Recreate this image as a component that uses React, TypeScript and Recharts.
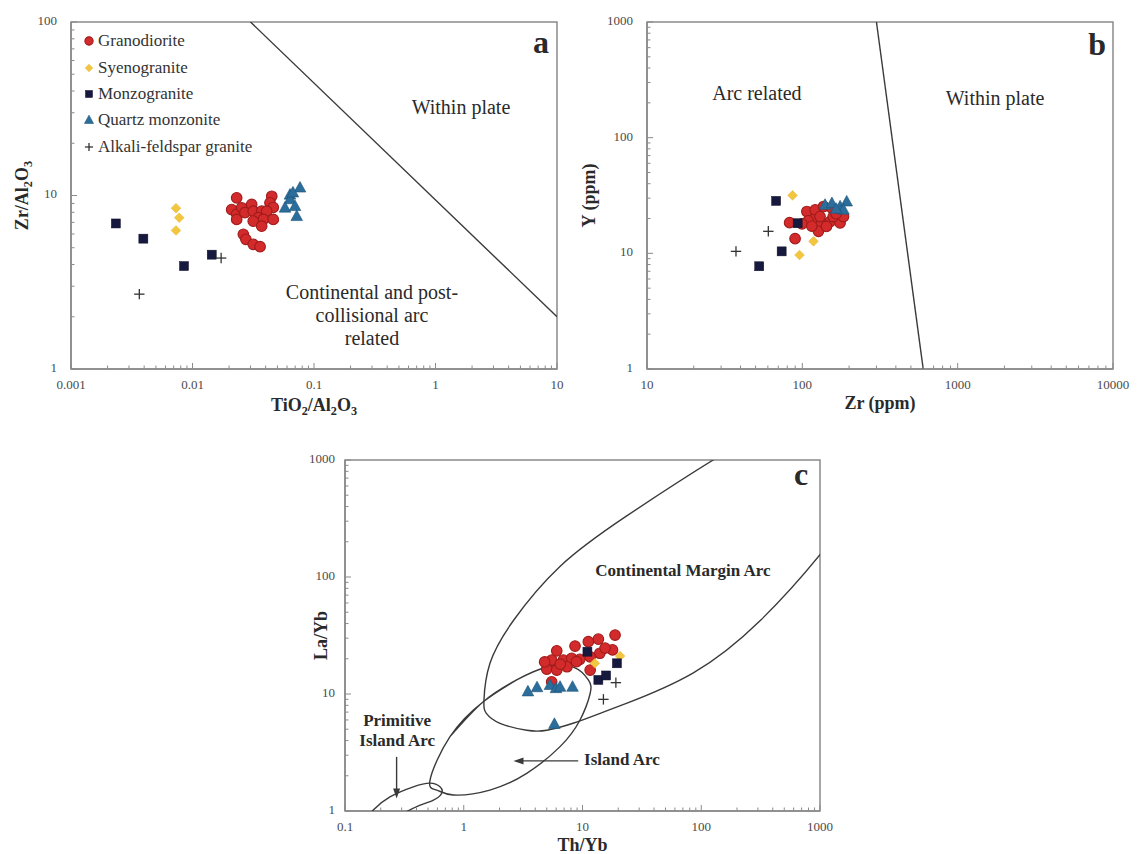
import React from 'react';
import { ScatterChart, Scatter, XAxis, YAxis, ReferenceDot, ReferenceArea, Legend } from 'recharts';

const SERIF = '"Liberation Serif", "Times New Roman", Times, serif';
const AXIS_GRAY = '#8a8a8a';
const LINE_DARK = '#3a3a3a';
const TEXT = '#2a2a2a';

const SERIES_NAMES = ['Granodiorite', 'Syenogranite', 'Monzogranite', 'Quartz monzonite', 'Alkali-feldspar granite'];

// ---------- Panel a: Zr/Al2O3 vs TiO2/Al2O3 ----------
const aGranodiorite = [
  { x: 0.0231, y: 9.7 }, { x: 0.021, y: 8.3 }, { x: 0.0231, y: 7.8 }, { x: 0.0254, y: 8.5 },
  { x: 0.027, y: 7.96 }, { x: 0.0307, y: 8.88 }, { x: 0.0316, y: 8.12 }, { x: 0.0371, y: 8.12 },
  { x: 0.0348, y: 7.45 }, { x: 0.0449, y: 9.9 }, { x: 0.0434, y: 9.08 }, { x: 0.0462, y: 8.53 },
  { x: 0.0408, y: 8.12 }, { x: 0.0383, y: 7.28 }, { x: 0.0462, y: 7.28 }, { x: 0.0316, y: 7.12 },
  { x: 0.0371, y: 6.66 }, { x: 0.0262, y: 5.97 }, { x: 0.0275, y: 5.59 }, { x: 0.0316, y: 5.23 },
  { x: 0.036, y: 5.07 }, { x: 0.0231, y: 7.28 },
];
const aSyenogranite = [{ x: 0.00731, y: 8.45 }, { x: 0.00778, y: 7.45 }, { x: 0.00731, y: 6.29 }];
const aMonzogranite = [{ x: 0.00234, y: 6.9 }, { x: 0.00394, y: 5.64 }, { x: 0.00851, y: 3.92 }, { x: 0.0144, y: 4.56 }];
const aQuartzMonzonite = [
  { x: 0.0634, y: 10.1 }, { x: 0.0767, y: 11.1 }, { x: 0.0634, y: 9.5 }, { x: 0.0577, y: 8.5 },
  { x: 0.0698, y: 8.68 }, { x: 0.0721, y: 7.6 }, { x: 0.0671, y: 10.4 },
];
const aAlkaliGranite = [{ x: 0.0172, y: 4.36 }, { x: 0.00365, y: 2.7 }];
const aBoundary = [{ x: 0.03, y: 100 }, { x: 10, y: 2 }];

// ---------- Panel b: Y vs Zr ----------
const bGranodiorite = [
  { x: 82.8, y: 18.4 }, { x: 89.8, y: 13.4 }, { x: 107, y: 23.0 }, { x: 121, y: 23.8 },
  { x: 137, y: 25.4 }, { x: 155, y: 24.6 }, { x: 118, y: 19.5 }, { x: 133, y: 18.3 },
  { x: 151, y: 18.8 }, { x: 175, y: 18.3 }, { x: 127, y: 15.5 }, { x: 158, y: 20.8 },
  { x: 130, y: 20.8 }, { x: 109, y: 19.1 }, { x: 143, y: 17.1 }, { x: 99.5, y: 18.0 },
  { x: 184, y: 20.8 }, { x: 115, y: 17.2 }, { x: 165, y: 22.0 },
];
const bSyenogranite = [{ x: 86.5, y: 31.7 }, { x: 118, y: 12.7 }, { x: 95.9, y: 9.66 }];
const bMonzogranite = [{ x: 67.8, y: 28.4 }, { x: 73.6, y: 10.4 }, { x: 52.8, y: 7.73 }, { x: 93.3, y: 18.2 }];
const bQuartzMonzonite = [
  { x: 140, y: 26.2 }, { x: 155, y: 27.1 }, { x: 175, y: 25.4 }, { x: 193, y: 28.0 },
  { x: 184, y: 23.8 }, { x: 165, y: 24.2 },
];
const bAlkaliGranite = [{ x: 60.4, y: 15.5 }, { x: 37.4, y: 10.4 }];
const bBoundary = [{ x: 300, y: 1000 }, { x: 600, y: 1 }];

// ---------- Panel c: La/Yb vs Th/Yb ----------
const cGranodiorite = [
  { x: 18.8, y: 31.9 }, { x: 13.6, y: 29.4 }, { x: 11.2, y: 28.0 }, { x: 8.65, y: 25.7 },
  { x: 6.07, y: 23.4 }, { x: 17.9, y: 23.8 }, { x: 14.0, y: 22.3 }, { x: 5.5, y: 19.5 },
  { x: 6.9, y: 19.5 }, { x: 8.1, y: 20.2 }, { x: 9.5, y: 19.8 }, { x: 11.6, y: 20.8 },
  { x: 5.0, y: 16.3 }, { x: 6.07, y: 16.0 }, { x: 7.4, y: 17.1 }, { x: 11.6, y: 16.0 },
  { x: 6.5, y: 18.0 }, { x: 8.9, y: 18.9 }, { x: 5.5, y: 12.7 }, { x: 4.8, y: 18.8 },
  { x: 15.5, y: 24.7 },
];
const cSyenogranite = [{ x: 20.7, y: 21.1 }, { x: 12.7, y: 18.3 }];
const cMonzogranite = [{ x: 11.0, y: 23.0 }, { x: 19.5, y: 18.3 }, { x: 13.6, y: 13.2 }, { x: 15.8, y: 14.4 }];
const cQuartzMonzonite = [
  { x: 3.47, y: 10.5 }, { x: 4.14, y: 11.4 }, { x: 5.32, y: 11.9 }, { x: 5.98, y: 11.2 },
  { x: 6.47, y: 11.5 }, { x: 8.24, y: 11.5 }, { x: 5.8, y: 5.54 },
];
const cAlkaliGranite = [{ x: 19.1, y: 12.5 }, { x: 15.0, y: 9.0 }];

// field boundaries (traced outlines)
const cContinentalArcField = [
  { x: 282, y: 1585 }, { x: 126, y: 1000 }, { x: 23.4, y: 331 }, { x: 6.46, y: 123 },
  { x: 2.63, y: 42.7 }, { x: 1.66, y: 18.2 }, { x: 1.48, y: 8.91 }, { x: 1.55, y: 6.84 },
  { x: 2.02, y: 5.62 }, { x: 3.39, y: 4.9 }, { x: 5.01, y: 4.9 }, { x: 8.32, y: 5.62 },
  { x: 14.1, y: 6.84 }, { x: 23.4, y: 8.32 }, { x: 85.1, y: 15.1 }, { x: 316, y: 42.7 },
  { x: 1000, y: 155 }, { x: 1995, y: 398 },
];
const cIslandArcField = [
  { x: 0.766, y: 4.32 }, { x: 1.46, y: 8.59 }, { x: 2.79, y: 13.2 }, { x: 5.0, y: 17.0 },
  { x: 8.37, y: 17.0 }, { x: 11.2, y: 13.2 }, { x: 11.6, y: 10.1 }, { x: 9.53, y: 6.0 },
  { x: 6.47, y: 3.55 }, { x: 3.39, y: 2.1 }, { x: 1.66, y: 1.51 }, { x: 0.817, y: 1.37 },
  { x: 0.592, y: 1.51 }, { x: 0.52, y: 1.84 }, { x: 0.766, y: 4.32 }, { x: 1.46, y: 8.59 },
  { x: 2.79, y: 13.2 },
];
const cPrimitiveArcField = [
  { x: 0.141, y: 0.794 }, { x: 0.173, y: 1.02 }, { x: 0.239, y: 1.32 }, { x: 0.376, y: 1.61 },
  { x: 0.52, y: 1.73 }, { x: 0.631, y: 1.61 }, { x: 0.652, y: 1.42 }, { x: 0.555, y: 1.24 },
  { x: 0.402, y: 1.09 }, { x: 0.29, y: 0.925 }, { x: 0.224, y: 0.83 },
];
const cPrimitiveArrow = [{ x: 0.272, y: 2.9 }, { x: 0.272, y: 1.36 }];
const cIslandArrow = [{ x: 9.2, y: 2.68 }, { x: 2.78, y: 2.68 }];

// ---------- tick labels ----------
const aXMajor = [0.001, 0.01, 0.1, 1, 10];
const aYMajor = [1, 10, 100];
const bXMajor = [10, 100, 1000, 10000];
const bYMajor = [1, 10, 100, 1000];
const cXMajor = [0.1, 1, 10, 100, 1000];
const cYMajor = [1, 10, 100, 1000];

const withMinor = (majors: number[]) => {
  const out: number[] = [];
  majors.forEach((m, i) => {
    if (i === majors.length - 1) {
      out.push(m);
      return;
    }
    for (let k = 1; k < 10; k++) out.push(+(m * k).toPrecision(6));
  });
  return out;
};

// ---------- symbols ----------
type Draw = (cx: number, cy: number, s?: number) => React.ReactElement;
const drawCircle: Draw = (cx, cy, s = 1) => (
  <circle cx={cx} cy={cy} r={5.3 * s} fill="#d32b2b" stroke="#a01b1b" strokeWidth={1.1} />
);
const drawDiamond: Draw = (cx, cy, s = 1) => {
  const d = 4.8 * s;
  return (
    <polygon
      points={`${cx},${cy - d} ${cx + d},${cy} ${cx},${cy + d} ${cx - d},${cy}`}
      fill="#f3c640"
      stroke="#e7b52e"
      strokeWidth={0.6}
    />
  );
};
const drawSquare: Draw = (cx, cy, s = 1) => {
  const h = 4.5 * s;
  return <rect x={cx - h} y={cy - h} width={2 * h} height={2 * h} fill="#16183e" stroke="#0e0f2a" strokeWidth={0.5} />;
};
const drawTriangle: Draw = (cx, cy, s = 1) => {
  const w = 5.8 * s;
  const t = 6.2 * s;
  const b = 4.4 * s;
  return (
    <polygon
      points={`${cx},${cy - t} ${cx + w},${cy + b} ${cx - w},${cy + b}`}
      fill="#2b6d9b"
      stroke="#1e5478"
      strokeWidth={0.6}
    />
  );
};
const drawPlus: Draw = (cx, cy, s = 1) => {
  const a = 5.2 * s;
  return (
    <g stroke="#333" strokeWidth={1.3}>
      <line x1={cx - a} x2={cx + a} y1={cy} y2={cy} />
      <line x1={cx} x2={cx} y1={cy - a} y2={cy + a} />
    </g>
  );
};
const SYMBOLS: Record<string, Draw> = {
  Granodiorite: drawCircle,
  Syenogranite: drawDiamond,
  Monzogranite: drawSquare,
  'Quartz monzonite': drawTriangle,
  'Alkali-feldspar granite': drawPlus,
};

// ---------- ticks ----------
const xTick = (majors: number[]) => (p: any) => {
  const v = p.payload.value;
  const major = majors.includes(v);
  return (
    <g>
      <line x1={p.x} x2={p.x} y1={p.y} y2={p.y - (major ? 6 : 3.5)} stroke={AXIS_GRAY} strokeWidth={1} />
      {major && (
        <text x={p.x} y={p.y + 17} textAnchor="middle" dominantBaseline="middle" fontFamily={SERIF} fontSize={13} fill="#4a4a4a">
          {String(v)}
        </text>
      )}
    </g>
  );
};
const yTick = (majors: number[], gap: number) => (p: any) => {
  const v = p.payload.value;
  const major = majors.includes(v);
  return (
    <g>
      <line x1={p.x} x2={p.x + (major ? 6 : 3.5)} y1={p.y} y2={p.y} stroke={AXIS_GRAY} strokeWidth={1} />
      {major && (
        <text x={p.x - gap} y={p.y} textAnchor="end" dominantBaseline="middle" fontFamily={SERIF} fontSize={13} fill="#4a4a4a">
          {String(v)}
        </text>
      )}
    </g>
  );
};

// ---------- text helpers ----------
const SUB = 5;
const subText = (parts: Array<[string, boolean]>, size: number) =>
  parts.map(([t, sub], i) => {
    const prevSub = i > 0 && parts[i - 1][1];
    const dy = sub ? SUB : prevSub ? -SUB : 0;
    return (
      <tspan key={i} dy={dy} fontSize={sub ? size * 0.68 : size}>
        {t}
      </tspan>
    );
  });

const xTitle = (parts: Array<[string, boolean]>, dy: number) => ({
  content: (lp: any) => {
    const vb = lp.viewBox || { x: 0, y: 0, width: 0, height: 0 };
    return (
      <text x={vb.x + vb.width / 2} y={vb.y + dy} textAnchor="middle" dominantBaseline="middle" fontFamily={SERIF} fontWeight="bold" fontSize={18} fill={TEXT}>
        {subText(parts, 18)}
      </text>
    );
  },
});
const yTitle = (parts: Array<[string, boolean]>, dx: number) => ({
  content: (lp: any) => {
    const vb = lp.viewBox || { x: 0, y: 0, width: 0, height: 0 };
    const cx = vb.x + vb.width + dx;
    const cy = vb.y + vb.height / 2;
    return (
      <text transform={`rotate(-90 ${cx} ${cy})`} x={cx} y={cy} textAnchor="middle" dominantBaseline="middle" fontFamily={SERIF} fontWeight="bold" fontSize={18} fill={TEXT}>
        {subText(parts, 18)}
      </text>
    );
  },
});

const textDot = (key: string, x: number, y: number, label: string, opts: { size?: number; bold?: boolean; anchor?: string } = {}) => (
  <ReferenceDot
    key={key}
    x={x}
    y={y}
    r={0}
    ifOverflow="visible"
    shape={(p: any) => (
      <text
        x={p.cx}
        y={p.cy}
        textAnchor={opts.anchor || 'middle'}
        dominantBaseline="middle"
        fontFamily={SERIF}
        fontSize={opts.size || 20}
        fontWeight={opts.bold ? 'bold' : 'normal'}
        fill={TEXT}
      >
        {label}
      </text>
    )}
  />
);

const boundaryLine = (key: string, data: Array<{ x: number; y: number }>, joint: any = 'linear') => (
  <Scatter
    key={key}
    data={data}
    line={{ stroke: LINE_DARK, strokeWidth: 1.4 }}
    lineType="joint"
    lineJointType={joint}
    shape={() => <g />}
    legendType="none"
    isAnimationActive={false}
  />
);

const seriesScatters = (prefix: string, sets: Array<Array<{ x: number; y: number }>>) =>
  sets.map((d, i) => {
    const name = SERIES_NAMES[i];
    const draw = SYMBOLS[name];
    return (
      <Scatter
        key={prefix + i}
        name={name}
        data={d}
        fill="#000"
        shape={(p: any) => draw(p.cx, p.cy)}
        isAnimationActive={false}
      />
    );
  });

const renderLegend = (props: any) => {
  const payload = (props.payload || [])
    .filter((e: any) => SERIES_NAMES.includes(e.value))
    .sort((a: any, b: any) => SERIES_NAMES.indexOf(a.value) - SERIES_NAMES.indexOf(b.value));
  return (
    <div style={{ fontFamily: SERIF, fontSize: 17, color: '#333' }}>
      {payload.map((e: any) => (
        <div key={e.value} style={{ display: 'flex', alignItems: 'center', height: 26.4 }}>
          <svg width={14} height={14} style={{ marginRight: 2, flex: 'none' }}>
            {SYMBOLS[e.value](7, 7, 0.78)}
          </svg>
          <span style={{ whiteSpace: 'nowrap' }}>{e.value}</span>
        </div>
      ))}
    </div>
  );
};

const axisCommon = {
  type: 'number' as const,
  scale: 'log' as const,
  allowDataOverflow: true,
  interval: 0 as const,
  tickSize: 0,
  tickMargin: 0,
  tickLine: false,
  axisLine: { stroke: AXIS_GRAY, strokeWidth: 1.5 },
};

export default function App() {
  return (
    <div style={{ position: 'absolute', left: 0, top: 0, width: 1137, height: 854, background: '#fff', overflow: 'hidden' }}>
      {/* Panel a */}
      <div style={{ position: 'absolute', left: 0, top: 0 }}>
        <ScatterChart width={575} height={420} margin={{ top: 22, right: 18, bottom: 11, left: 11 }}>
          <XAxis
            {...axisCommon}
            dataKey="x"
            domain={[0.001, 10]}
            ticks={withMinor(aXMajor)}
            tick={xTick(aXMajor)}
            height={40}
            label={xTitle([['TiO', false], ['2', true], ['/Al', false], ['2', true], ['O', false], ['3', true]], 38)}
          />
          <YAxis
            {...axisCommon}
            dataKey="y"
            domain={[1, 100]}
            ticks={withMinor(aYMajor)}
            tick={yTick(aYMajor, 14)}
            width={60}
            label={yTitle([['Zr/Al', false], ['2', true], ['O', false], ['3', true]], -47)}
          />
          <ReferenceArea x1={0.001} x2={10} y1={1} y2={100} fill="none" fillOpacity={0} stroke={AXIS_GRAY} strokeWidth={1.5} ifOverflow="visible" />
          {boundaryLine('aLine', aBoundary)}
          {seriesScatters('a', [aGranodiorite, aSyenogranite, aMonzogranite, aQuartzMonzonite, aAlkaliGranite])}
          {textDot('aWP', 1.62, 31.2, 'Within plate')}
          {textDot('aC1', 0.3, 2.7, 'Continental and post-')}
          {textDot('aC2', 0.3, 1.99, 'collisional arc')}
          {textDot('aC3', 0.3, 1.47, 'related')}
          {textDot('aLetter', 7.38, 72.8, 'a', { size: 32, bold: true })}
          <Legend
            layout="vertical"
            align="center"
            verticalAlign="middle"
            itemSorter={null as any}
            wrapperStyle={{ left: 82, top: 28, width: 220, height: 135 }}
            content={renderLegend}
          />
        </ScatterChart>
      </div>

      {/* Panel b */}
      <div style={{ position: 'absolute', left: 575, top: 0 }}>
        <ScatterChart width={562} height={420} margin={{ top: 22, right: 24, bottom: 11, left: 12 }}>
          <XAxis
            {...axisCommon}
            dataKey="x"
            domain={[10, 10000]}
            ticks={withMinor(bXMajor)}
            tick={xTick(bXMajor)}
            height={40}
            label={xTitle([['Zr (ppm)', false]], 36)}
          />
          <YAxis
            {...axisCommon}
            dataKey="y"
            domain={[1, 1000]}
            ticks={withMinor(bYMajor)}
            tick={yTick(bYMajor, 14)}
            width={60}
            label={yTitle([['Y (ppm)', false]], -56)}
          />
          <ReferenceArea x1={10} x2={10000} y1={1} y2={1000} fill="none" fillOpacity={0} stroke={AXIS_GRAY} strokeWidth={1.5} ifOverflow="visible" />
          {boundaryLine('bLine', bBoundary)}
          {seriesScatters('b', [bGranodiorite, bSyenogranite, bMonzogranite, bQuartzMonzonite, bAlkaliGranite])}
          {textDot('bAR', 51, 232, 'Arc related')}
          {textDot('bWP', 1742, 210, 'Within plate')}
          {textDot('bLetter', 7907, 599, 'b', { size: 32, bold: true })}
        </ScatterChart>
      </div>

      {/* Panel c */}
      <div style={{ position: 'absolute', left: 250, top: 430 }}>
        <ScatterChart width={600} height={424} margin={{ top: 30, right: 30, bottom: 3, left: 35 }}>
          <XAxis
            {...axisCommon}
            dataKey="x"
            domain={[0.1, 1000]}
            ticks={withMinor(cXMajor)}
            tick={xTick(cXMajor)}
            height={40}
            label={xTitle([['Th/Yb', false]], 36)}
          />
          <YAxis
            {...axisCommon}
            dataKey="y"
            domain={[1, 1000]}
            ticks={withMinor(cYMajor)}
            tick={yTick(cYMajor, 10)}
            width={60}
            label={yTitle([['La/Yb', false]], -22)}
          />
          <ReferenceArea x1={0.1} x2={1000} y1={1} y2={1000} fill="none" fillOpacity={0} stroke={AXIS_GRAY} strokeWidth={1.5} ifOverflow="visible" />
          {boundaryLine('cCMA', cContinentalArcField, 'natural')}
          {boundaryLine('cIA', cIslandArcField, 'natural')}
          {boundaryLine('cPIA', cPrimitiveArcField, 'natural')}
          {boundaryLine('cArr1', cPrimitiveArrow)}
          {boundaryLine('cArr2', cIslandArrow)}
          <ReferenceDot
            x={cPrimitiveArrow[1].x}
            y={cPrimitiveArrow[1].y}
            r={0}
            ifOverflow="visible"
            shape={(p: any) => (
              <polygon points={`${p.cx},${p.cy + 3} ${p.cx - 3.5},${p.cy - 7} ${p.cx + 3.5},${p.cy - 7}`} fill={LINE_DARK} />
            )}
          />
          <ReferenceDot
            x={cIslandArrow[1].x}
            y={cIslandArrow[1].y}
            r={0}
            ifOverflow="visible"
            shape={(p: any) => (
              <polygon points={`${p.cx - 3},${p.cy} ${p.cx + 7},${p.cy - 3.5} ${p.cx + 7},${p.cy + 3.5}`} fill={LINE_DARK} />
            )}
          />
          {seriesScatters('c', [cGranodiorite, cSyenogranite, cMonzogranite, cQuartzMonzonite, cAlkaliGranite])}
          {textDot('cCMA', 70.2, 110, 'Continental Margin Arc', { size: 17, bold: true })}
          {textDot('cP1', 0.275, 5.77, 'Primitive', { size: 17, bold: true })}
          {textDot('cP2', 0.275, 3.89, 'Island Arc', { size: 17, bold: true })}
          {textDot('cIA', 10.3, 2.68, 'Island Arc', { size: 17, bold: true, anchor: 'start' })}
          {textDot('cLetter', 692, 702, 'c', { size: 32, bold: true })}
        </ScatterChart>
      </div>
    </div>
  );
}
